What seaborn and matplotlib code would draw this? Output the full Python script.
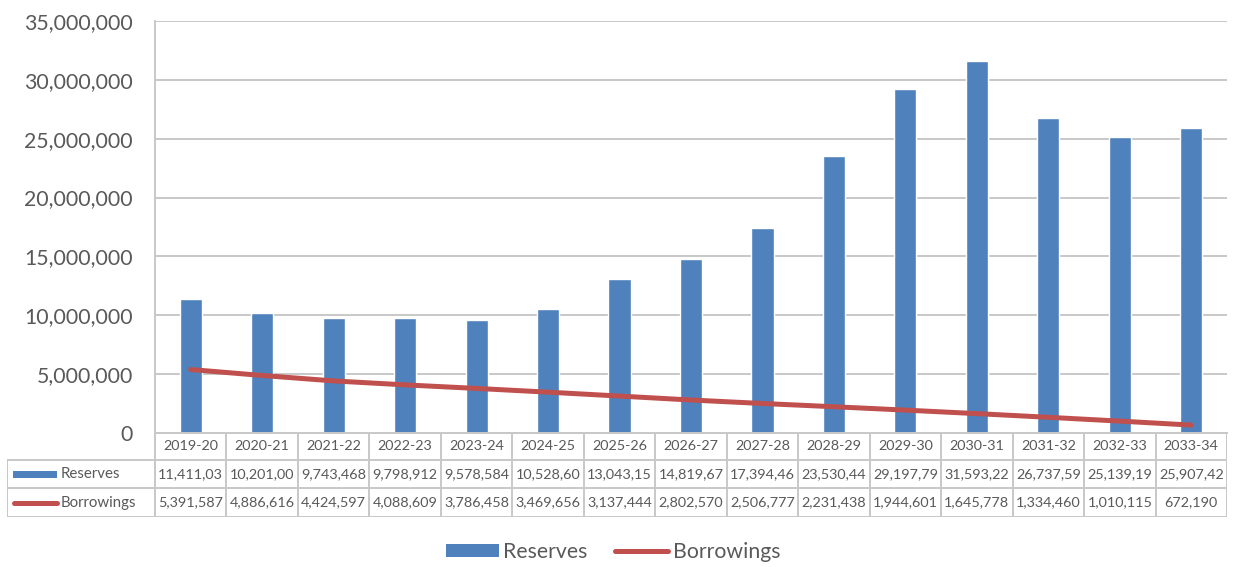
import matplotlib
matplotlib.use("Agg")
import matplotlib.pyplot as plt
import seaborn as sns
import pandas as pd
from matplotlib.patches import Rectangle
from matplotlib.lines import Line2D

categories = ["2019-20", "2020-21", "2021-22", "2022-23", "2023-24", "2024-25", "2025-26",
              "2026-27", "2027-28", "2028-29", "2029-30", "2030-31", "2031-32", "2032-33", "2033-34"]
reserves = [11411030, 10201000, 9743468, 9798912, 9578584, 10528600, 13043150,
            14819670, 17394460, 23530440, 29197790, 31593220, 26737590, 25139190, 25907420]
borrowings = [5391587, 4886616, 4424597, 4088609, 3786458, 3469656, 3137444,
              2802570, 2506777, 2231438, 1944601, 1645778, 1334460, 1010115, 672190]
series_names = ["Reserves", "Borrowings"]
y_ticks = [0, 5000000, 10000000, 15000000, 20000000, 25000000, 30000000, 35000000]

BLUE = "#4F81BD"
RED = "#C0504D"
GRID = "#C8C8C8"
TEXT = "#595959"

sns.set_theme(style="white")
plt.rcParams["font.family"] = ["Lato", "DejaVu Sans"]

W, H = 1238, 567
fig = plt.figure(figsize=(W / 100, H / 100), dpi=100)

L, R, T, B = 155, 1227, 21, 433
ax = fig.add_axes([L / W, 1 - B / H, (R - L) / W, (B - T) / H])

df = pd.DataFrame({"cat": categories, "Reserves": reserves, "Borrowings": borrowings})
sns.barplot(data=df, x="cat", y="Reserves", color=BLUE, width=0.31, ax=ax, saturation=1)
ax.plot(range(len(categories)), df["Borrowings"], color=RED, lw=3.6, solid_capstyle="round")

ax.set_xlim(-0.5, len(categories) - 0.5)
ax.set_ylim(0, 35000000)
ax.set_yticks(y_ticks)
ax.set_yticklabels([f"{v:,}" for v in y_ticks], fontsize=15.3, color=TEXT)
ax.tick_params(axis="y", length=0, pad=16)
ax.set_xticks([])
ax.set_xlabel("")
ax.set_ylabel("")
ax.yaxis.grid(True, color=GRID, lw=1.4)
ax.set_axisbelow(True)
for s in ["top", "right"]:
    ax.spines[s].set_visible(False)
for s in ["left", "bottom"]:
    ax.spines[s].set_color(GRID)
    ax.spines[s].set_linewidth(1.4)

# data table
TL, TT, TB = 7, 433, 517
tax = fig.add_axes([TL / W, 1 - TB / H, (R - TL) / W, (TB - TT) / H])
tax.set_xlim(TL, R)
tax.set_ylim(TB, TT)
tax.axis("off")
rows_y = [433, 460, 488, 517]
n = len(categories)
cw = (R - L) / n
lc = dict(color=GRID, lw=1.4)
tax.plot([L, R], [rows_y[0], rows_y[0]], **lc)
for yy in rows_y[1:]:
    tax.plot([TL, R], [yy, yy], **lc)
for i in range(n + 1):
    x = L + i * cw
    tax.plot([x, x], [rows_y[0], rows_y[3]], **lc)
tax.plot([TL, TL], [rows_y[1], rows_y[3]], **lc)

fs = 10.4
for i, c in enumerate(categories):
    xc = L + (i + 0.5) * cw
    tax.text(xc, (rows_y[0] + rows_y[1]) / 2, c, ha="center", va="center", fontsize=fs, color=TEXT)
    tax.text(xc, (rows_y[1] + rows_y[2]) / 2, f"{reserves[i]:,}"[:9], ha="center", va="center",
             fontsize=fs, color=TEXT)
    tax.text(xc, (rows_y[2] + rows_y[3]) / 2, f"{borrowings[i]:,}"[:9], ha="center", va="center",
             fontsize=fs, color=TEXT)

ym1 = (rows_y[1] + rows_y[2]) / 2
ym2 = (rows_y[2] + rows_y[3]) / 2
tax.add_patch(Rectangle((13, ym1 - 3.5), 44, 7, color=BLUE, lw=0))
tax.plot([14, 57], [ym2, ym2], color=RED, lw=3.6, solid_capstyle="round")
tax.text(61, ym1, series_names[0], ha="left", va="center", fontsize=10.8, color=TEXT)
tax.text(61, ym2, series_names[1], ha="left", va="center", fontsize=10.8, color=TEXT)

handles = [Rectangle((0, 0), 1, 1, color=BLUE, lw=0),
           Line2D([0], [0], color=RED, lw=3.6, solid_capstyle="round")]
fig.legend(handles, series_names, loc="center", bbox_to_anchor=(613 / W, 1 - 552 / H),
           ncol=2, frameon=False, fontsize=15.3, labelcolor=TEXT, handlelength=2.5,
           handleheight=0.6, handletextpad=0.2, columnspacing=1.3)

fig.savefig("out.png", dpi=100)
